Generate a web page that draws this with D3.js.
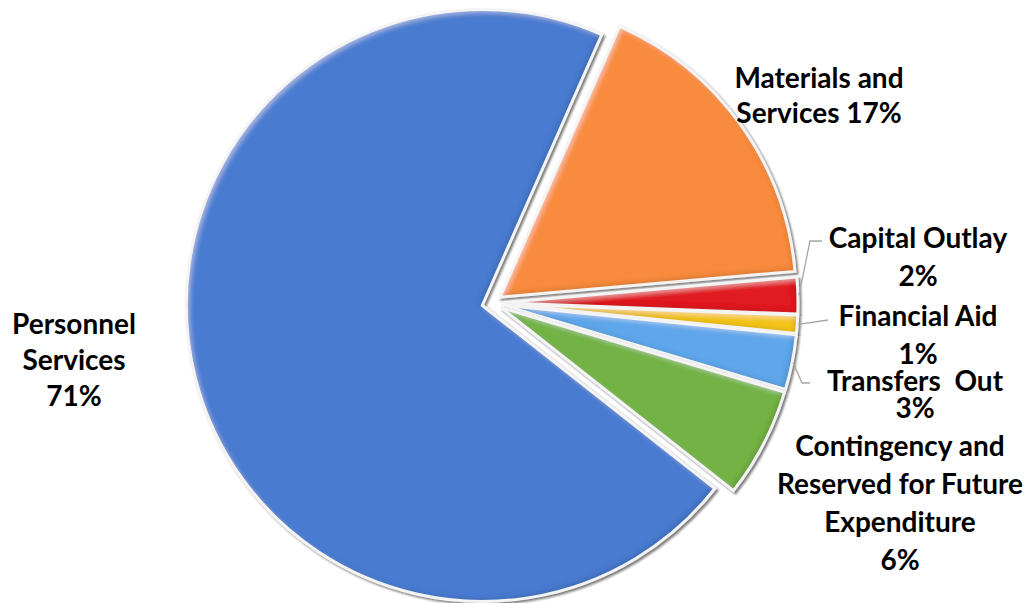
<!DOCTYPE html>
<html>
<head>
<meta charset="utf-8">
<script src="https://cdn.jsdelivr.net/npm/d3@7"></script>
<style>
  html, body { margin: 0; padding: 0; background: #fff; }
  svg { display: block; }
  .lbl { font-family: "Lato", "Open Sans", sans-serif; font-weight: 700; fill: #000; }
</style>
</head>
<body>
<svg id="chart" width="1031" height="603"></svg>
<script>
// Budget share by category (percent of total)
const categories = [
  "Personnel Services",
  "Materials and Services",
  "Capital Outlay",
  "Financial Aid",
  "Transfers Out",
  "Contingency and Reserved for Future Expenditure"
];
const values = [71, 17, 2, 1, 3, 6];
const colors = ["#4a7bd0", "#f88b3c", "#e01f22", "#f4c51a", "#5ea6ea", "#73b244"];

// Label text, one entry per line
const labelLines = [
  ["Personnel", "Services", "71%"],
  ["Materials and", "Services 17%"],
  ["Capital Outlay", "2%"],
  ["Financial Aid", "1%"],
  ["Transfers  Out", "3%"],
  ["Contingency and", "Reserved for Future", "Expenditure", "6%"]
];

// Layout
const cx = 492, cy = 303, radius = 296, explode = 10;
const startDeg = 128.2;
const labelPos = [
  { x: 74,  y: 334, dy: 36 },
  { x: 819, y: 88,  dy: 35 },
  { x: 918, y: 248, dy: 38 },
  { x: 918, y: 326, dy: 38 },
  { x: 915, y: 391, dy: 27 },
  { x: 900, y: 456, dy: 38 }
];
// leader line elbows (label side), null = no leader line
const leaders = [
  null,
  null,
  [[810, 241], [822, 241]],
  [[828, 320]],
  [[802, 383], [810, 383]],
  null
];

const svg = d3.select("#chart");
const defs = svg.append("defs");

// bevel: light band on upper-left edges, dark band on lower-right edges
const bevel = defs.append("filter").attr("id", "bevel")
  .attr("x", "-5%").attr("y", "-5%").attr("width", "110%").attr("height", "110%");
bevel.append("feGaussianBlur").attr("in", "SourceAlpha").attr("stdDeviation", 2.5).attr("result", "blur");
bevel.append("feOffset").attr("in", "blur").attr("dx", 3).attr("dy", 3).attr("result", "offDown");
bevel.append("feComposite").attr("in", "SourceAlpha").attr("in2", "offDown").attr("operator", "out").attr("result", "hlMask");
bevel.append("feFlood").attr("flood-color", "#ffffff").attr("flood-opacity", 0.35).attr("result", "white");
bevel.append("feComposite").attr("in", "white").attr("in2", "hlMask").attr("operator", "in").attr("result", "hl");
bevel.append("feOffset").attr("in", "blur").attr("dx", -3).attr("dy", -3).attr("result", "offUp");
bevel.append("feComposite").attr("in", "SourceAlpha").attr("in2", "offUp").attr("operator", "out").attr("result", "shMask");
bevel.append("feFlood").attr("flood-color", "#000000").attr("flood-opacity", 0.25).attr("result", "black");
bevel.append("feComposite").attr("in", "black").attr("in2", "shMask").attr("operator", "in").attr("result", "sh");
const bm = bevel.append("feMerge");
bm.append("feMergeNode").attr("in", "SourceGraphic");
bm.append("feMergeNode").attr("in", "hl");
bm.append("feMergeNode").attr("in", "sh");

// soft gray drop shadow around each slice
const shadow = defs.append("filter").attr("id", "shadow")
  .attr("x", "-5%").attr("y", "-5%").attr("width", "110%").attr("height", "110%");
shadow.append("feGaussianBlur").attr("in", "SourceAlpha").attr("stdDeviation", 1.2).attr("result", "b");
shadow.append("feOffset").attr("in", "b").attr("dx", 1.5).attr("dy", 1.5).attr("result", "o");
shadow.append("feFlood").attr("flood-color", "#555").attr("flood-opacity", 0.75).attr("result", "c");
shadow.append("feComposite").attr("in", "c").attr("in2", "o").attr("operator", "in").attr("result", "s");
const sm = shadow.append("feMerge");
sm.append("feMergeNode").attr("in", "s");
sm.append("feMergeNode").attr("in", "SourceGraphic");

const data = categories.map((c, i) => ({ name: c, value: values[i], color: colors[i], i }));

const pie = d3.pie()
  .value(d => d.value)
  .sort(null)
  .startAngle(startDeg * Math.PI / 180)
  .endAngle(startDeg * Math.PI / 180 + 2 * Math.PI);

const arc = d3.arc().innerRadius(0).outerRadius(radius);
const arcs = pie(data);

const g = svg.append("g").attr("transform", `translate(${cx},${cy})`);

const slices = g.selectAll("g.slice")
  .data(arcs)
  .join("g")
  .attr("class", "slice")
  .attr("filter", "url(#shadow)")
  .attr("transform", d => {
    const a = (d.startAngle + d.endAngle) / 2;
    return `translate(${explode * Math.sin(a)},${-explode * Math.cos(a)})`;
  });

slices.append("path")
  .attr("d", arc)
  .attr("fill", d => d.data.color)
  .attr("filter", "url(#bevel)");

slices.append("path")
  .attr("d", arc)
  .attr("fill", "none")
  .attr("stroke", "#f4f4f4")
  .attr("stroke-width", 3)
  .attr("stroke-linejoin", "miter");

// leader lines from slice edge to label
arcs.forEach((d, i) => {
  if (!leaders[i]) return;
  const a = (d.startAngle + d.endAngle) / 2;
  const ox = cx + explode * Math.sin(a), oy = cy - explode * Math.cos(a);
  const start = [ox + (radius + 1) * Math.sin(a), oy - (radius + 1) * Math.cos(a)];
  svg.append("path")
    .attr("d", d3.line()([start, ...leaders[i]]))
    .attr("fill", "none")
    .attr("stroke", "#a6a6a6")
    .attr("stroke-width", 1.3);
});

// labels
labelLines.forEach((lines, i) => {
  const p = labelPos[i];
  const t = svg.append("text")
    .attr("class", "lbl")
    .attr("text-anchor", "middle")
    .style("font-size", "28px");
  lines.forEach((ln, k) => {
    t.append("tspan")
      .attr("x", p.x)
      .attr("y", p.y + k * p.dy)
      .attr("xml:space", "preserve")
      .text(ln);
  });
});
</script>
</body>
</html>
